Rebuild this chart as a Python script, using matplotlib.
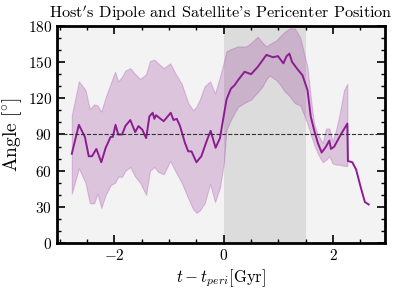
import numpy as np
import matplotlib
matplotlib.use("Agg")
import matplotlib.pyplot as plt
from matplotlib.ticker import MultipleLocator

plt.rcParams['font.family'] = 'serif'
plt.rcParams['font.serif'] = ['cmr10']
plt.rcParams['mathtext.fontset'] = 'cm'
plt.rcParams['axes.formatter.use_mathtext'] = True

# mean angle vs time since pericenter
t_line = [-2.78, -2.65, -2.54, -2.47, -2.41, -2.33, -2.24, -2.16, -2.07, -2.03,
          -1.98, -1.93, -1.86, -1.80, -1.71, -1.62, -1.56, -1.49, -1.42, -1.36,
          -1.30, -1.27, -1.24, -1.10, -0.97, -0.92, -0.86, -0.80, -0.71, -0.65,
          -0.59, -0.50, -0.41, -0.31, -0.24, -0.15, -0.07, -0.01, 0.05, 0.13,
          0.20, 0.26, 0.38, 0.50, 0.62, 0.78, 0.90, 0.99, 1.09, 1.15,
          1.20, 1.25, 1.35, 1.44, 1.53, 1.59, 1.65, 1.72, 1.79, 1.87,
          1.93, 1.96, 2.02, 2.14, 2.26, 2.27, 2.35, 2.42, 2.50, 2.58, 2.65]
angle = [74, 98, 88, 72, 72, 78, 67, 79, 88, 88,
         98, 90, 90, 97, 102, 92, 97, 94, 87, 105,
         108, 103, 106, 101, 108, 102, 103, 97, 83, 76,
         76, 67, 72, 85, 93, 79, 87, 103, 119, 128,
         131, 135, 142, 140, 146, 156, 154, 155, 149, 155,
         157, 150, 144, 139, 127, 105, 94, 83, 75, 80,
         85, 78, 80, 90, 99, 68, 67, 61, 47, 34, 32]

# spread band
t_band = [-2.78, -2.65, -2.53, -2.45, -2.37, -2.31, -2.24, -2.16, -2.07, -1.99,
          -1.93, -1.86, -1.80, -1.71, -1.62, -1.53, -1.42, -1.35, -1.27, -1.20,
          -1.10, -0.98, -0.89, -0.77, -0.65, -0.56, -0.50, -0.44, -0.35, -0.25,
          -0.16, -0.07, 0.0, 0.05, 0.14, 0.26, 0.41, 0.50, 0.62, 0.71,
          0.78, 0.84, 0.96, 1.02, 1.11, 1.20, 1.30, 1.40, 1.47, 1.53,
          1.59, 1.65, 1.72, 1.81, 1.87, 1.93, 1.99, 2.06, 2.11, 2.20, 2.26]
band_hi = [106, 134, 127, 111, 115, 114, 109, 121, 132, 142,
           134, 138, 143, 145, 140, 136, 140, 151, 152, 149,
           145, 149, 141, 132, 116, 110, 113, 119, 130, 134,
           124, 138, 150, 159, 161, 163, 163, 166, 171, 166,
           163, 165, 168, 171, 175, 178, 178, 170, 157, 146,
           121, 99, 90, 83, 95, 95, 84, 95, 105, 127, 132]
band_lo = [41, 62, 50, 33, 33, 41, 29, 40, 48, 50,
           55, 55, 60, 63, 55, 50, 40, 60, 63, 59,
           57, 68, 60, 50, 37, 28, 25, 27, 33, 49,
           34, 46, 66, 94, 103, 113, 117, 119, 125, 130,
           136, 139, 135, 132, 126, 122, 116, 114, 106, 99,
           90, 82, 74, 67, 69, 72, 66, 65, 65, 64, 64]

purple = '#8c1d91'

fig = plt.figure(figsize=(3.97, 2.88), dpi=100)
ax = fig.add_axes([0.1436, 0.156, 0.8264, 0.754])
ax.set_facecolor('#f3f3f3')

ax.axvspan(0, 1.5, color='gray', alpha=0.2, lw=0)
ax.fill_between(t_band, band_lo, band_hi, color=purple, alpha=0.22, lw=0.8)
ax.plot(t_line, angle, color=purple, lw=1.4)
ax.axhline(90, color='#333333', ls='--', lw=0.8)

ax.set_xlim(-3.05, 2.95)
ax.set_ylim(0, 180)
ax.xaxis.set_major_locator(MultipleLocator(2))
ax.xaxis.set_minor_locator(MultipleLocator(0.5))
ax.yaxis.set_major_locator(MultipleLocator(30))
ax.yaxis.set_minor_locator(MultipleLocator(10))
ax.tick_params(which='both', direction='in', top=True, right=True, labelsize=11)
ax.tick_params(which='major', length=6, width=1.2)
ax.tick_params(which='minor', length=3, width=1.0)
for s in ax.spines.values():
    s.set_linewidth(2)

ax.set_xlabel(r'$t - t_{peri}$[Gyr]', fontsize=12, labelpad=3)
ax.set_ylabel(r'Angle [$^{\circ}$]', fontsize=14, labelpad=3)
ax.set_title(r"Host$'$s Dipole and Satellite's Pericenter Position", fontsize=11.7, pad=6)

fig.savefig('out.png', dpi=100)
